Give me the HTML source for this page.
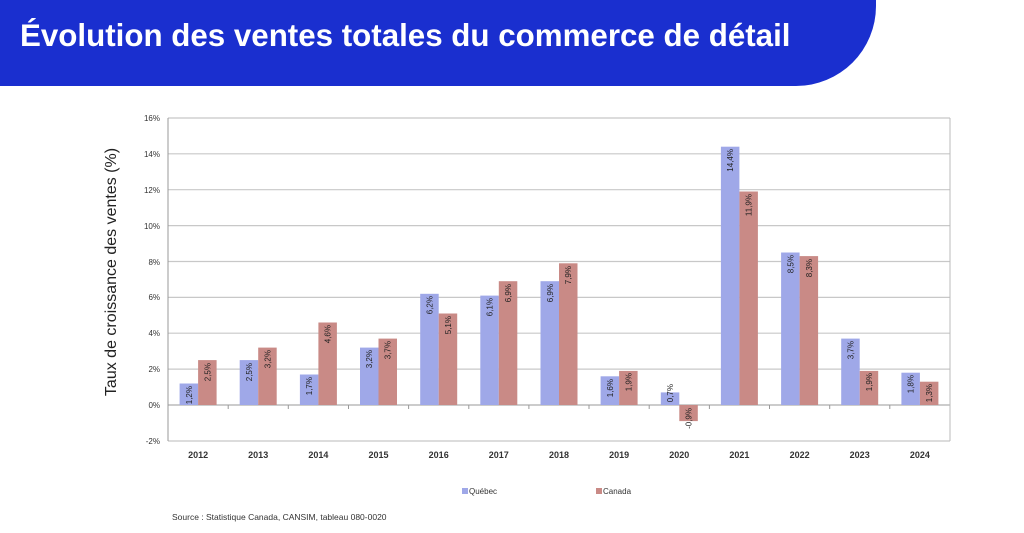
<!DOCTYPE html>
<html><head><meta charset="utf-8"><style>
body{margin:0;width:1024px;height:533px;background:#fff;overflow:hidden;font-family:"Liberation Sans",sans-serif;position:relative}
.ban{position:absolute;left:0;top:0;width:876px;height:86px;background:#1a2fcf;border-bottom-right-radius:80px}
.ban h1{margin:0;position:absolute;left:20px;top:18px;color:#fff;font-size:31.3px;font-weight:bold;white-space:nowrap}
svg{position:absolute;left:0;top:0}
</style></head><body>
<div class="ban"><h1>Évolution des ventes totales du commerce de détail</h1></div>
<svg width="1024" height="533" font-family="Liberation Sans, sans-serif">
<g stroke="#c8c8c8" stroke-width="1.2">
<line x1="168" x2="950" y1="118" y2="118"/><line x1="168" x2="950" y1="153.8" y2="153.8"/><line x1="168" x2="950" y1="189.7" y2="189.7"/><line x1="168" x2="950" y1="225.6" y2="225.6"/><line x1="168" x2="950" y1="261.5" y2="261.5"/><line x1="168" x2="950" y1="297.4" y2="297.4"/><line x1="168" x2="950" y1="333.2" y2="333.2"/><line x1="168" x2="950" y1="369.1" y2="369.1"/><line x1="168" x2="950" y1="441" y2="441"/>
</g>
<line x1="168" x2="950" y1="405" y2="405" stroke="#999" stroke-width="1"/>
<line x1="168" x2="168" y1="118" y2="441" stroke="#999"/>
<line x1="950" x2="950" y1="118" y2="441" stroke="#bbb"/>
<g stroke="#999"><line x1="228.2" x2="228.2" y1="405" y2="409"/><line x1="288.3" x2="288.3" y1="405" y2="409"/><line x1="348.5" x2="348.5" y1="405" y2="409"/><line x1="408.6" x2="408.6" y1="405" y2="409"/><line x1="468.8" x2="468.8" y1="405" y2="409"/><line x1="528.9" x2="528.9" y1="405" y2="409"/><line x1="589" x2="589" y1="405" y2="409"/><line x1="649.2" x2="649.2" y1="405" y2="409"/><line x1="709.4" x2="709.4" y1="405" y2="409"/><line x1="769.5" x2="769.5" y1="405" y2="409"/><line x1="829.7" x2="829.7" y1="405" y2="409"/><line x1="889.8" x2="889.8" y1="405" y2="409"/></g>
<g font-size="8" fill="#333" text-anchor="end">
<text x="160" y="121">16%</text><text x="160" y="157">14%</text><text x="160" y="193">12%</text><text x="160" y="229">10%</text><text x="160" y="265">8%</text><text x="160" y="300">6%</text><text x="160" y="336">4%</text><text x="160" y="372">2%</text><text x="160" y="408">0%</text><text x="160" y="444">-2%</text>
</g>
<g font-size="9" font-weight="bold" fill="#333" text-anchor="middle">
<text x="198.1" y="458">2012</text><text x="258.2" y="458">2013</text><text x="318.4" y="458">2014</text><text x="378.5" y="458">2015</text><text x="438.7" y="458">2016</text><text x="498.8" y="458">2017</text><text x="559" y="458">2018</text><text x="619.1" y="458">2019</text><text x="679.3" y="458">2020</text><text x="739.4" y="458">2021</text><text x="799.6" y="458">2022</text><text x="859.7" y="458">2023</text><text x="919.9" y="458">2024</text>
</g>
<g fill="#9fa8e8">
<rect x="179.6" y="383.5" width="18.5" height="21.5"/><rect x="239.7" y="360.1" width="18.5" height="44.9"/><rect x="299.9" y="374.5" width="18.5" height="30.5"/><rect x="360" y="347.6" width="18.5" height="57.4"/><rect x="420.2" y="293.8" width="18.5" height="111.2"/><rect x="480.3" y="295.6" width="18.5" height="109.4"/><rect x="540.5" y="281.2" width="18.5" height="123.8"/><rect x="600.6" y="376.3" width="18.5" height="28.7"/><rect x="660.8" y="392.4" width="18.5" height="12.6"/><rect x="720.9" y="146.7" width="18.5" height="258.3"/><rect x="781.1" y="252.5" width="18.5" height="152.5"/><rect x="841.2" y="338.6" width="18.5" height="66.4"/><rect x="901.4" y="372.7" width="18.5" height="32.3"/>
</g>
<g fill="#c98a86">
<rect x="198.1" y="360.1" width="18.5" height="44.9"/><rect x="258.2" y="347.6" width="18.5" height="57.4"/><rect x="318.4" y="322.5" width="18.5" height="82.5"/><rect x="378.5" y="338.6" width="18.5" height="66.4"/><rect x="438.7" y="313.5" width="18.5" height="91.5"/><rect x="498.8" y="281.2" width="18.5" height="123.8"/><rect x="559" y="263.3" width="18.5" height="141.7"/><rect x="619.1" y="370.9" width="18.5" height="34.1"/><rect x="679.3" y="405" width="18.5" height="16.1"/><rect x="739.4" y="191.5" width="18.5" height="213.5"/><rect x="799.6" y="256.1" width="18.5" height="148.9"/><rect x="859.7" y="370.9" width="18.5" height="34.1"/><rect x="919.9" y="381.7" width="18.5" height="23.3"/>
</g>
<g font-size="8" fill="#222" text-anchor="end">
<text transform="translate(192,386) rotate(-90)">1,2%</text>
<text transform="translate(252,363) rotate(-90)">2,5%</text>
<text transform="translate(312,377) rotate(-90)">1,7%</text>
<text transform="translate(372,350) rotate(-90)">3,2%</text>
<text transform="translate(432.5,296) rotate(-90)">6,2%</text>
<text transform="translate(492.5,298) rotate(-90)">6,1%</text>
<text transform="translate(553,284) rotate(-90)">6,9%</text>
<text transform="translate(613,379) rotate(-90)">1,6%</text>
<text transform="translate(673,384) rotate(-90)">0,7%</text>
<text transform="translate(733,149) rotate(-90)">14,4%</text>
<text transform="translate(793.5,255) rotate(-90)">8,5%</text>
<text transform="translate(853.5,341) rotate(-90)">3,7%</text>
<text transform="translate(913.5,375) rotate(-90)">1,8%</text>
<text transform="translate(210.5,363) rotate(-90)">2,5%</text>
<text transform="translate(270.5,350) rotate(-90)">3,2%</text>
<text transform="translate(330.5,325) rotate(-90)">4,6%</text>
<text transform="translate(390.5,341) rotate(-90)">3,7%</text>
<text transform="translate(451,316) rotate(-90)">5,1%</text>
<text transform="translate(511,284) rotate(-90)">6,9%</text>
<text transform="translate(571,266) rotate(-90)">7,9%</text>
<text transform="translate(631.5,373) rotate(-90)">1,9%</text>
<text transform="translate(691.5,408) rotate(-90)">-0,9%</text>
<text transform="translate(751.5,194) rotate(-90)">11,9%</text>
<text transform="translate(812,259) rotate(-90)">8,3%</text>
<text transform="translate(872,373) rotate(-90)">1,9%</text>
<text transform="translate(932,384) rotate(-90)">1,3%</text>
</g>
<text transform="translate(116,272) rotate(-90)" text-anchor="middle" font-size="16" fill="#222">Taux de croissance des ventes (%)</text>
<rect x="462" y="488" width="6" height="6" fill="#9fa8e8"/><text x="469" y="494" font-size="8" fill="#333">Québec</text>
<rect x="596" y="488" width="6" height="6" fill="#c98a86"/><text x="603" y="494" font-size="8" fill="#333">Canada</text>
<text x="172" y="520" font-size="8.5" fill="#333">Source : Statistique Canada, CANSIM, tableau 080-0020</text>
</svg>
</body></html>
